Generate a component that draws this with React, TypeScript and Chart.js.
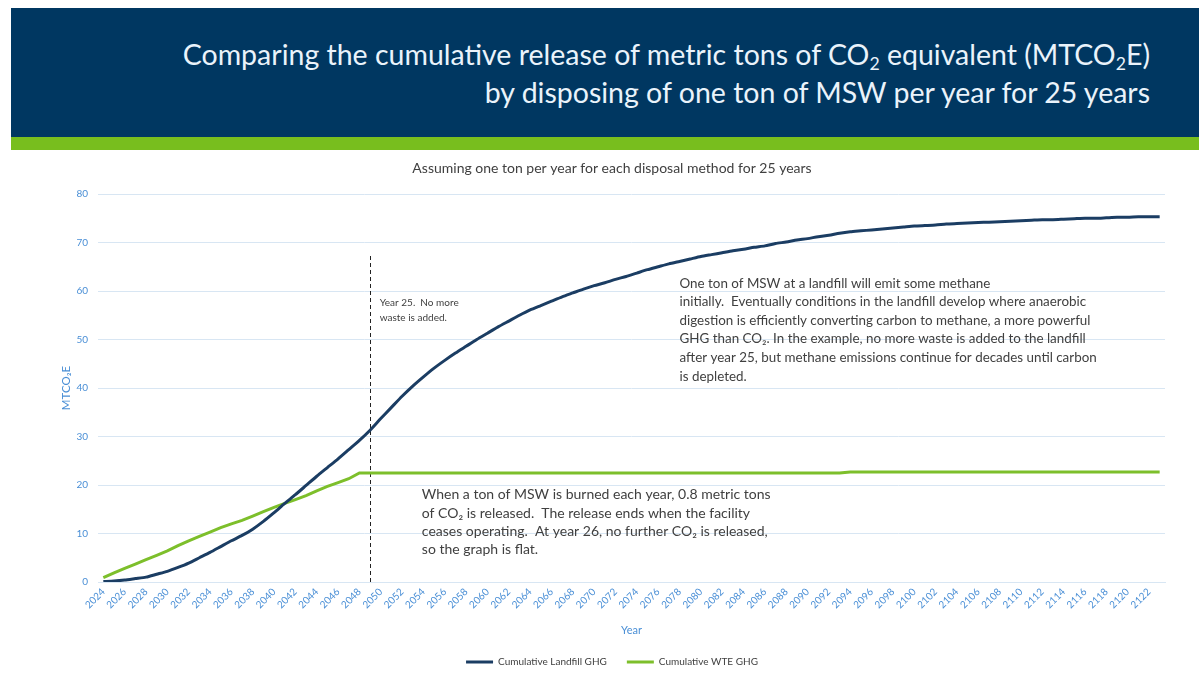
import React, { useEffect, useRef } from "react";
import { Chart, registerables } from "chart.js";

Chart.register(...registerables);

// ---------- data ----------
const years: string[] = [
  "2024", "2025", "2026", "2027", "2028", "2029", "2030", "2031", "2032", "2033",
  "2034", "2035", "2036", "2037", "2038", "2039", "2040", "2041", "2042", "2043",
  "2044", "2045", "2046", "2047", "2048", "2049", "2050", "2051", "2052", "2053",
  "2054", "2055", "2056", "2057", "2058", "2059", "2060", "2061", "2062", "2063",
  "2064", "2065", "2066", "2067", "2068", "2069", "2070", "2071", "2072", "2073",
  "2074", "2075", "2076", "2077", "2078", "2079", "2080", "2081", "2082", "2083",
  "2084", "2085", "2086", "2087", "2088", "2089", "2090", "2091", "2092", "2093",
  "2094", "2095", "2096", "2097", "2098", "2099", "2100", "2101", "2102", "2103",
  "2104", "2105", "2106", "2107", "2108", "2109", "2110", "2111", "2112", "2113",
  "2114", "2115", "2116", "2117", "2118", "2119", "2120", "2121", "2122", "2123",
];

const shownYearLabels: string[] = [
  "2024", "2026", "2028", "2030", "2032", "2034", "2036", "2038", "2040", "2042",
  "2044", "2046", "2048", "2050", "2052", "2054", "2056", "2058", "2060", "2062",
  "2064", "2066", "2068", "2070", "2072", "2074", "2076", "2078", "2080", "2082",
  "2084", "2086", "2088", "2090", "2092", "2094", "2096", "2098", "2100", "2102",
  "2104", "2106", "2108", "2110", "2112", "2114", "2116", "2118", "2120", "2122",
];

const landfillGhg: number[] = [
  0.1, 0.2, 0.4, 0.7, 1.0, 1.6, 2.2, 3.0, 3.9, 5.0,
  6.1, 7.3, 8.5, 9.6, 10.9, 12.5, 14.3, 16.2, 18.0, 19.9,
  21.8, 23.6, 25.4, 27.3, 29.2, 31.3, 33.7, 36.0, 38.3, 40.4,
  42.3, 44.1, 45.7, 47.2, 48.6, 50.0, 51.3, 52.6, 53.8, 55.0,
  56.1, 57.0, 57.9, 58.8, 59.6, 60.4, 61.1, 61.7, 62.4, 63.0,
  63.7, 64.4, 65.0, 65.6, 66.1, 66.6, 67.1, 67.5, 67.9, 68.3,
  68.6, 69.0, 69.3, 69.8, 70.1, 70.5, 70.8, 71.2, 71.5, 71.9,
  72.2, 72.4, 72.6, 72.8, 73.0, 73.2, 73.4, 73.5, 73.6, 73.8,
  73.9, 74.0, 74.1, 74.2, 74.3, 74.4, 74.5, 74.6, 74.7, 74.7,
  74.8, 74.9, 75.0, 75.0, 75.1, 75.2, 75.2, 75.3, 75.3, 75.3,
];

const wteGhg: number[] = [
  0.9, 1.9, 2.8, 3.7, 4.6, 5.5, 6.4, 7.5, 8.5, 9.4,
  10.3, 11.2, 12.0, 12.7, 13.6, 14.5, 15.4, 16.2, 17.0, 17.8,
  18.8, 19.7, 20.5, 21.3, 22.5, 22.5, 22.5, 22.5, 22.5, 22.5,
  22.5, 22.5, 22.5, 22.5, 22.5, 22.5, 22.5, 22.5, 22.5, 22.5,
  22.5, 22.5, 22.5, 22.5, 22.5, 22.5, 22.5, 22.5, 22.5, 22.5,
  22.5, 22.5, 22.5, 22.5, 22.5, 22.5, 22.5, 22.5, 22.5, 22.5,
  22.5, 22.5, 22.5, 22.5, 22.5, 22.5, 22.5, 22.5, 22.5, 22.5,
  22.7, 22.7, 22.7, 22.7, 22.7, 22.7, 22.7, 22.7, 22.7, 22.7,
  22.7, 22.7, 22.7, 22.7, 22.7, 22.7, 22.7, 22.7, 22.7, 22.7,
  22.7, 22.7, 22.7, 22.7, 22.7, 22.7, 22.7, 22.7, 22.7, 22.7,
];

const seriesNames: string[] = ["Cumulative Landfill GHG", "Cumulative WTE GHG"];
const yTickMin = 0;
const yTickMax = 80;
const yTickStep = 10;

const chartTitle = "Assuming one ton per year for each disposal method for 25 years";
const headerLine1 = ["Comparing the cumulative release of metric tons of CO", "2", " equivalent (MTCO", "2", "E)"];
const headerLine2 = "by disposing of one ton of MSW per year for 25 years";

// annotation texts and their data anchors (category index, value)
const dividerIndex = 25; // year 25 (2049)
const dividerTopValue = 67.5;
const noteYear25 = ["Year 25.  No more", "waste is added."];
const noteYear25Anchor = { index: 25.9, value: 57.6 };
const noteLandfill = [
  "One ton of MSW at a landfill will emit some methane",
  "initially.  Eventually conditions in the landfill develop where anaerobic",
  "digestion is efficiently converting carbon to methane, a more powerful",
  "GHG than CO\u2082. In the example, no more waste is added to the landfill",
  "after year 25, but methane emissions continue for decades until carbon",
  "is depleted.",
];
const noteLandfillAnchor = { index: 54.0, value: 61.6 };
const noteWte = [
  "When a ton of MSW is burned each year, 0.8 metric tons",
  "of CO\u2082 is released.  The release ends when the facility",
  "ceases operating.  At year 26, no further CO\u2082 is released,",
  "so the graph is flat.",
];
const noteWteAnchor = { index: 29.85, value: 18.0 };

// ---------- styles ----------
const FONT = "Lato, 'Open Sans', 'Noto Sans', sans-serif";
const NAVY = "#1b3d63";
const GREEN = "#7dbf2b";
const AXIS_BLUE = "#4a8fd6";
const GRID = "#d8e6f3";
const TEXT_GREY = "#404040";
const HEADER_NAVY = "#003761";
const HEADER_GREEN = "#78be1e";

const annotationPlugin = {
  id: "mswAnnotations",
  beforeDatasetsDraw(chart: any) {
    const { ctx, scales } = chart;
    const x = scales.x;
    const y = scales.y;
    const px = Math.round(x.getPixelForValue(dividerIndex)) + 0.5;
    ctx.save();
    ctx.strokeStyle = "#222222";
    ctx.lineWidth = 1;
    ctx.setLineDash([4, 3]);
    ctx.beginPath();
    ctx.moveTo(px, y.getPixelForValue(0));
    ctx.lineTo(px, y.getPixelForValue(dividerTopValue));
    ctx.stroke();
    ctx.restore();
  },
  afterDatasetsDraw(chart: any) {
    const { ctx, scales } = chart;
    const x = scales.x;
    const y = scales.y;
    const drawBlock = (lines: string[], anchor: { index: number; value: number }, size: number, lh: number) => {
      const left = x.getPixelForValue(anchor.index);
      const top = y.getPixelForValue(anchor.value);
      ctx.save();
      ctx.fillStyle = TEXT_GREY;
      ctx.font = `${size}px ${FONT}`;
      ctx.textAlign = "left";
      ctx.textBaseline = "middle";
      lines.forEach((t, i) => ctx.fillText(t, left, top + i * lh));
      ctx.restore();
    };
    drawBlock(noteYear25, noteYear25Anchor, 10, 15.5);
    drawBlock(noteLandfill, noteLandfillAnchor, 13.4, 18.6);
    drawBlock(noteWte, noteWteAnchor, 14, 18.4);
  },
};

export default function App() {
  const canvasRef = useRef<HTMLCanvasElement | null>(null);

  useEffect(() => {
    if (!canvasRef.current) return;
    const chart = new Chart(canvasRef.current, {
      type: "line",
      data: {
        labels: years,
        datasets: [
          {
            label: seriesNames[0],
            data: landfillGhg,
            borderColor: NAVY,
            backgroundColor: NAVY,
            borderWidth: 3,
            pointRadius: 0,
            tension: 0.2,
          },
          {
            label: seriesNames[1],
            data: wteGhg,
            borderColor: GREEN,
            backgroundColor: GREEN,
            borderWidth: 3,
            pointRadius: 0,
            tension: 0,
          },
        ],
      },
      options: {
        responsive: false,
        animation: false,
        layout: { padding: { left: 0, right: 34, top: 0, bottom: 0 } },
        plugins: {
          title: {
            display: true,
            text: chartTitle,
            color: TEXT_GREY,
            font: { family: FONT, size: 14, weight: "normal" },
            padding: { top: 10, bottom: 17.2 },
          },
          legend: {
            position: "bottom",
            maxHeight: 38,
            labels: {
              boxWidth: 27,
              boxHeight: 3,
              padding: 20,
              color: TEXT_GREY,
              font: { family: FONT, size: 10 },
              generateLabels: (c: any) => {
                const items = Chart.defaults.plugins.legend.labels.generateLabels(c);
                items.forEach((it: any) => {
                  it.lineWidth = 0;
                });
                return items;
              },
            },
          },
          tooltip: { enabled: false },
        },
        scales: {
          x: {
            offset: true,
            grid: { display: false, drawTicks: false },
            border: { display: true, color: GRID, width: 1 },
            ticks: {
              autoSkip: false,
              maxRotation: 45,
              minRotation: 45,
              color: AXIS_BLUE,
              padding: 4,
              font: { family: FONT, size: 10 },
              callback: (_v: any, idx: number) =>
                shownYearLabels.includes(years[idx]) ? years[idx] : "",
            },
            title: {
              display: true,
              text: "Year",
              color: AXIS_BLUE,
              font: { family: FONT, size: 11 },
              padding: { top: 0, bottom: 0 },
            },
            afterFit: (s: any) => {
              s.height = 55;
            },
          },
          y: {
            min: yTickMin,
            max: yTickMax,
            grid: { color: GRID, drawTicks: false, lineWidth: 1 },
            border: { display: false },
            ticks: {
              stepSize: yTickStep,
              color: AXIS_BLUE,
              padding: 10,
              font: { family: FONT, size: 10 },
            },
            title: {
              display: true,
              text: "MTCO\u2082E",
              color: AXIS_BLUE,
              font: { family: FONT, size: 11.5 },
              padding: { top: 0, bottom: 0 },
            },
            afterFit: (s: any) => {
              s.width = 39;
            },
          },
        },
      },
      plugins: [annotationPlugin],
    } as any);
    return () => chart.destroy();
  }, []);

  const subStyle: React.CSSProperties = {
    fontSize: "0.62em",
    verticalAlign: "baseline",
    position: "relative",
    top: "0.28em",
    lineHeight: 0,
  };

  return (
    <div
      style={{
        position: "absolute",
        left: 0,
        top: 0,
        width: 1199,
        height: 675,
        background: "#ffffff",
        overflow: "hidden",
      }}
    >
      <div style={{ position: "absolute", left: 11, top: 8, width: 1188, height: 129, background: HEADER_NAVY }} />
      <div style={{ position: "absolute", left: 11, top: 137, width: 1188, height: 13, background: HEADER_GREEN }} />
      <div
        style={{
          position: "absolute",
          right: 49,
          top: 35,
          textAlign: "right",
          color: "#eaf3fb",
          fontFamily: FONT,
          fontSize: 28.5,
          lineHeight: "38px",
          whiteSpace: "nowrap",
        }}
      >
        <div>
          {headerLine1[0]}
          <span style={subStyle}>{headerLine1[1]}</span>
          {headerLine1[2]}
          <span style={subStyle}>{headerLine1[3]}</span>
          {headerLine1[4]}
        </div>
        <div>{headerLine2}</div>
      </div>
      <canvas
        ref={canvasRef}
        width={1140}
        height={525}
        style={{ position: "absolute", left: 59, top: 150, width: 1140, height: 525 }}
      />
    </div>
  );
}
